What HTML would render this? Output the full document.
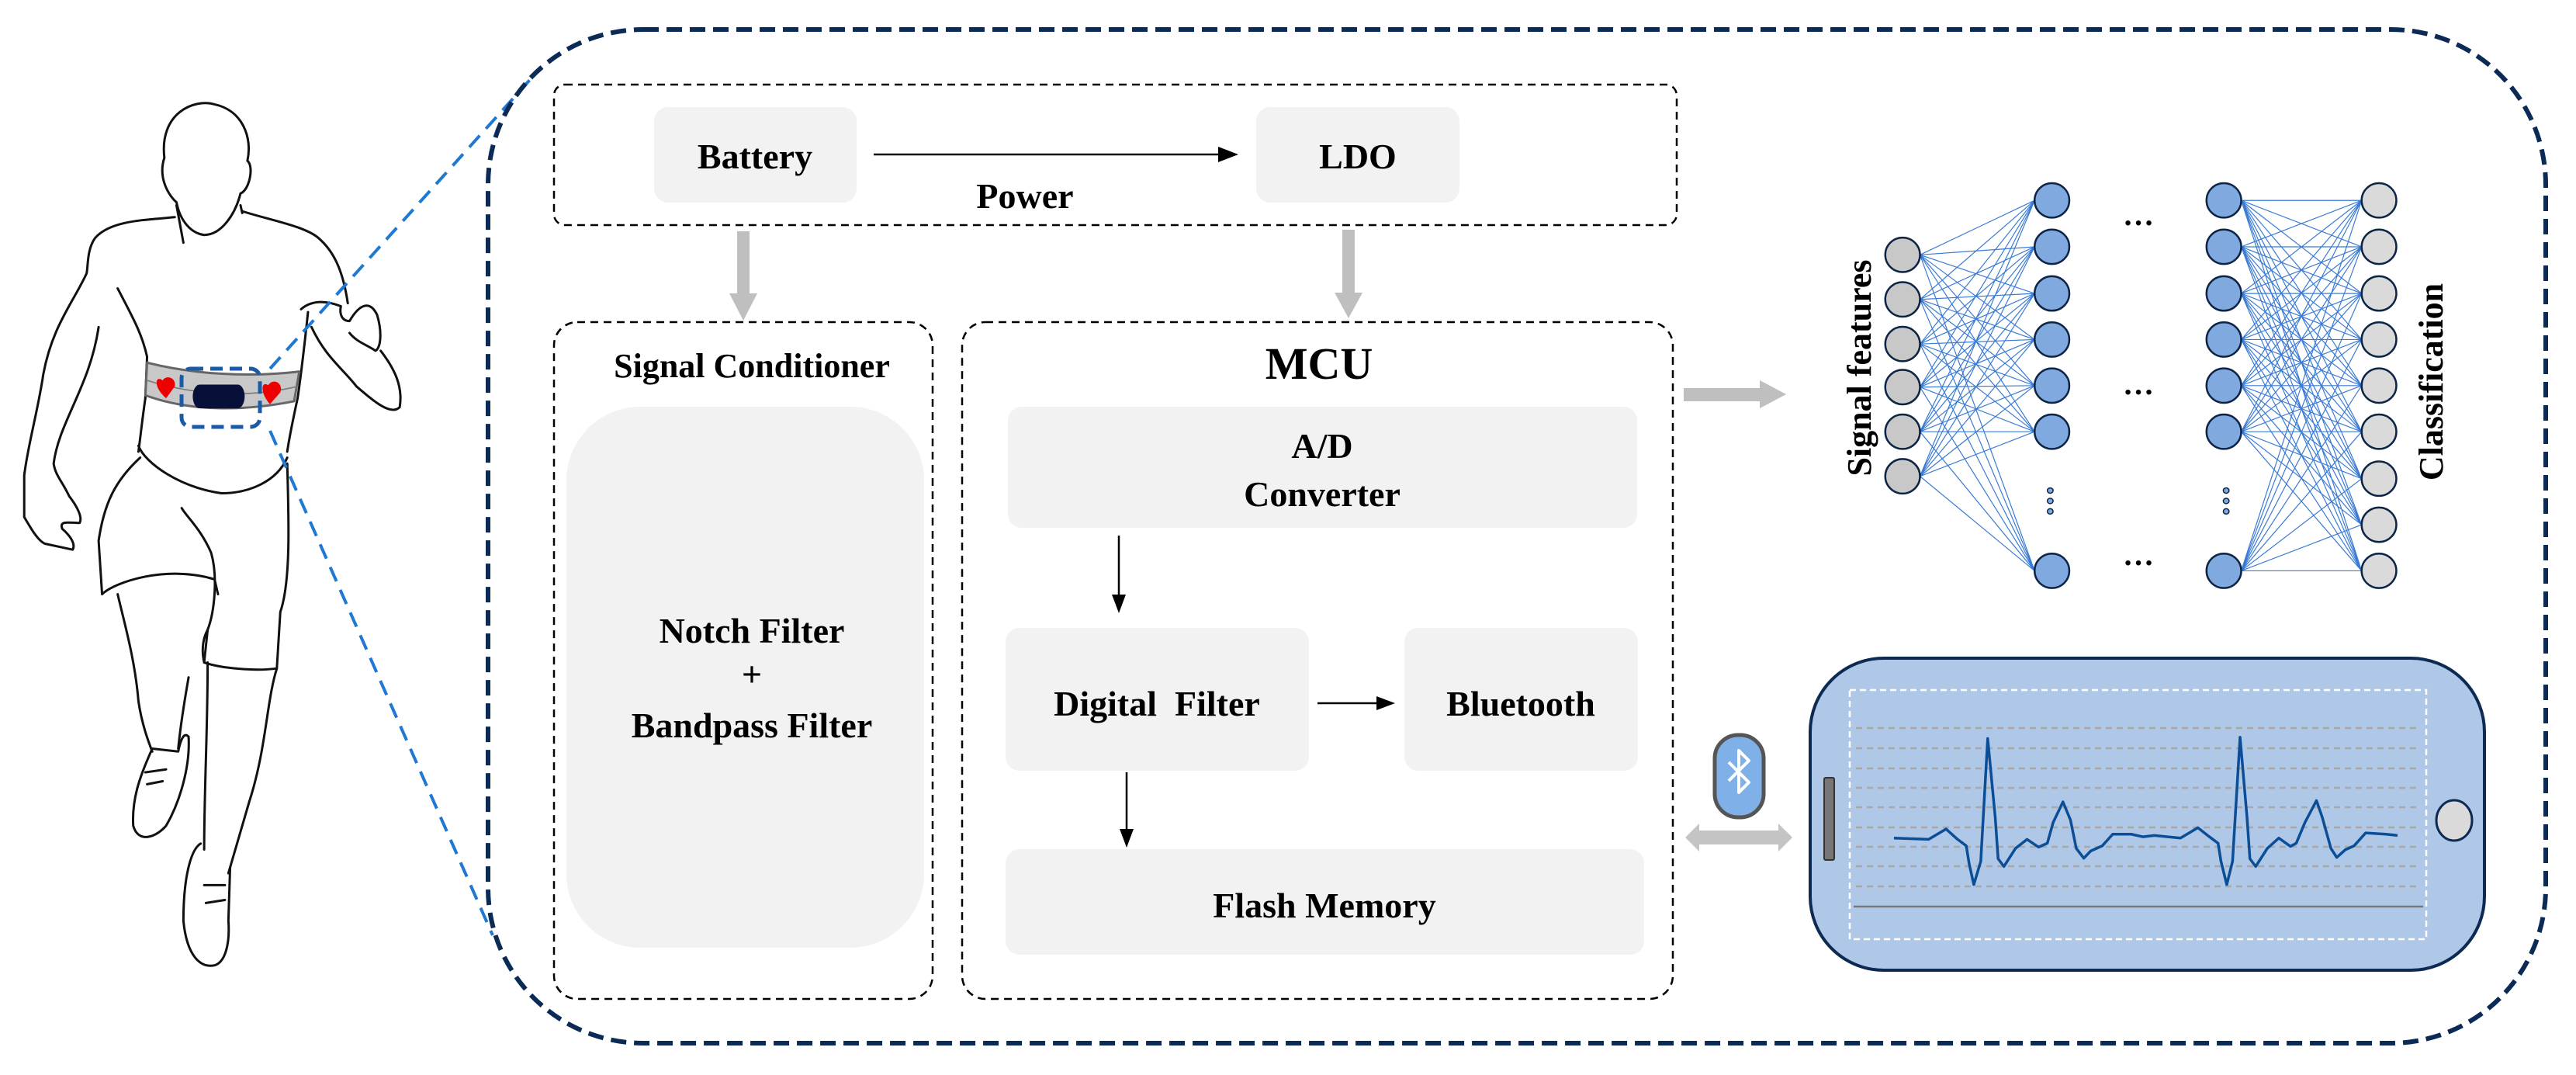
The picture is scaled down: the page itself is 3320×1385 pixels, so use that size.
<!DOCTYPE html>
<html><head><meta charset="utf-8"><style>
html,body{margin:0;padding:0;background:#fff;}
svg{display:block;}
text{font-family:"Liberation Serif",serif;font-weight:bold;fill:#000;}
.ns{vector-effect:non-scaling-stroke;}
</style></head><body>
<svg width="3320" height="1385" viewBox="0 0 3320 1385" xmlns="http://www.w3.org/2000/svg">
<!-- runner -->
<g transform="translate(0,100) scale(0.446,0.765)" fill="none" stroke="#111" stroke-width="3" stroke-linecap="round" stroke-linejoin="round">
<path class="ns" d="M475,135 C460,60 560,35 620,45 C700,55 730,100 715,140 C735,150 720,190 695,195 C680,230 640,265 590,265 C550,262 520,240 510,210 C490,200 455,170 475,135 Z"/>
<path class="ns" d="M510,215 L530,278 M695,215 L700,228"/>
<path class="ns" d="M505,235 C420,240 320,240 275,270 C250,290 255,320 250,330 C210,380 150,420 125,500 C110,560 80,620 70,670 L70,740 C90,760 110,780 130,785 L210,795 C220,785 200,770 180,760 C170,745 200,750 230,750 C240,740 220,720 200,705 C180,680 160,670 155,650 C170,580 260,520 285,420"/>
<path class="ns" d="M340,355 C380,400 410,430 425,470 L420,540 C410,580 405,610 400,630"/>
<path class="ns" d="M700,225 C780,240 880,250 920,270 C960,290 990,320 1005,380"/>
<path class="ns" d="M870,390 C900,375 940,375 985,385 C980,400 990,410 1010,410 C1040,380 1070,375 1090,400 C1105,430 1100,455 1085,460 C1060,450 1030,445 1010,430 M900,420 C940,470 990,490 1030,520 C1080,545 1130,570 1155,555 C1165,520 1140,490 1100,460"/>
<path class="ns" d="M890,395 C880,450 870,500 860,540 C845,580 835,610 830,630"/>
<path class="ns" d="M400,620 C420,650 520,690 640,700 C720,700 800,680 830,640 M405,640 C330,680 300,720 285,780 L295,870 C330,850 480,820 620,845 L630,870 M830,650 C835,750 840,850 810,900 L800,995 C740,1000 640,995 590,985 L600,930 C620,900 630,840 610,800 C580,760 540,740 525,725"/>
<path class="ns" d="M340,870 C360,920 390,980 400,1050 C410,1090 430,1120 440,1135 M545,1010 C530,1060 520,1100 515,1130 M590,985 C580,960 590,940 600,930"/>
<path class="ns" d="M440,1130 C410,1170 380,1210 385,1260 C400,1290 450,1280 480,1260 C520,1220 550,1160 545,1110 C530,1100 520,1120 515,1135 Z M420,1170 L480,1165 M425,1190 L470,1185"/>
<path class="ns" d="M600,985 C600,1100 590,1200 590,1300 M800,995 C770,1050 770,1130 720,1220 C690,1280 670,1320 660,1340"/>
<path class="ns" d="M580,1290 C550,1300 530,1350 530,1420 C540,1480 580,1500 620,1495 C650,1490 665,1460 660,1420 L665,1330 M590,1360 L650,1360 M595,1390 L650,1385"/>
<path class="ns" d="M425,480 C560,500 720,505 865,495 L850,545 C720,560 560,565 420,535 Z" fill="#c8c8c8" stroke="#666"/>
<path class="ns" d="M425,510 C560,535 720,540 860,520" stroke="#777" stroke-width="1.5"/>
<path d="M480,540 C440,520 450,500 470,510 C480,500 510,505 505,520 Z" fill="#e00" stroke="none"/>
<path d="M780,550 C750,530 755,510 775,518 C790,505 820,515 810,530 Z" fill="#e00" stroke="none"/>
<rect x="557" y="517" width="150" height="40" rx="20" ry="20" fill="#08103a" stroke="none"/>
</g>
<rect x="234" y="475" width="101" height="75" rx="12" fill="none" stroke="#1a5aa6" stroke-width="5" stroke-dasharray="16,9"/>
<!-- blue zoom lines -->
<line x1="348" y1="475" x2="690" y2="95" stroke="#1f78d1" stroke-width="4" stroke-dasharray="20,12"/>
<line x1="348" y1="555" x2="635" y2="1205" stroke="#1f78d1" stroke-width="4" stroke-dasharray="20,12"/>
<!-- outer box -->
<rect x="629" y="38" width="2652" height="1306" rx="200" fill="none" stroke="#0b2a55" stroke-width="6" stroke-dasharray="20,10"/>
<!-- top power box -->
<rect x="714" y="109" width="1447" height="181" rx="14" fill="none" stroke="#000" stroke-width="2.5" stroke-dasharray="10,7"/>
<rect x="843" y="138" width="261" height="123" rx="18" fill="#f2f2f2"/>
<rect x="1619" y="138" width="262" height="123" rx="18" fill="#f2f2f2"/>
<text x="973" y="217" font-size="46" text-anchor="middle">Battery</text>
<text x="1750" y="217" font-size="46" text-anchor="middle">LDO</text>
<line x1="1126" y1="199" x2="1575" y2="199" stroke="#000" stroke-width="2.5"/>
<polygon points="1570,189 1596,199 1570,209" fill="#000"/>
<text x="1321" y="268" font-size="46" text-anchor="middle">Power</text>
<!-- gray down arrows -->
<rect x="950" y="298" width="16" height="82" fill="#bfbfbf"/>
<polygon points="940,378 976,378 958,413" fill="#bfbfbf"/>
<rect x="1730" y="296" width="16" height="82" fill="#bfbfbf"/>
<polygon points="1720,377 1756,377 1738,410" fill="#bfbfbf"/>
<!-- signal conditioner -->
<rect x="714" y="415" width="488" height="872" rx="30" fill="none" stroke="#000" stroke-width="2.5" stroke-dasharray="10,7"/>
<text x="969" y="486" font-size="44" text-anchor="middle">Signal Conditioner</text>
<rect x="730" y="524" width="461" height="697" rx="95" fill="#f2f2f2"/>
<text x="969" y="828" font-size="46" text-anchor="middle">Notch Filter</text>
<text x="969" y="884" font-size="46" text-anchor="middle">+</text>
<text x="969" y="950" font-size="46" text-anchor="middle">Bandpass Filter</text>
<!-- MCU -->
<rect x="1240" y="415" width="916" height="872" rx="30" fill="none" stroke="#000" stroke-width="2.5" stroke-dasharray="10,7"/>
<text x="1700" y="488" font-size="58" text-anchor="middle">MCU</text>
<rect x="1299" y="524" width="811" height="156" rx="18" fill="#f2f2f2"/>
<text x="1704" y="590" font-size="46" text-anchor="middle">A/D</text>
<text x="1704" y="652" font-size="46" text-anchor="middle">Converter</text>
<line x1="1442" y1="690" x2="1442" y2="770" stroke="#000" stroke-width="2.5"/>
<polygon points="1433,766 1451,766 1442,790" fill="#000"/>
<rect x="1296" y="809" width="391" height="184" rx="18" fill="#f2f2f2"/>
<rect x="1810" y="809" width="301" height="184" rx="18" fill="#f2f2f2"/>
<text x="1491" y="922" font-size="46" text-anchor="middle" xml:space="preserve">Digital  Filter</text>
<text x="1960" y="922" font-size="46" text-anchor="middle">Bluetooth</text>
<line x1="1698" y1="906" x2="1778" y2="906" stroke="#000" stroke-width="2.5"/>
<polygon points="1774,897 1798,906 1774,915" fill="#000"/>
<line x1="1452" y1="995" x2="1452" y2="1072" stroke="#000" stroke-width="2.5"/>
<polygon points="1443,1068 1461,1068 1452,1092" fill="#000"/>
<rect x="1296" y="1094" width="823" height="136" rx="18" fill="#f2f2f2"/>
<text x="1707" y="1182" font-size="46" text-anchor="middle">Flash Memory</text>
<!-- right arrow -->
<rect x="2170" y="500" width="102" height="17" fill="#bfbfbf"/>
<polygon points="2268,490 2268,526 2302,508" fill="#bfbfbf"/>
<!-- neural net -->
<g transform="translate(2150,200) scale(0.746,0.383)">
<path class="ns" fill="none" stroke="#3a7bd5" stroke-width="1.2" d="M435 335L633 152M435 335L633 308M435 335L633 465M435 335L633 620M435 335L633 775M435 335L633 930M435 335L633 1398M435 485L633 152M435 485L633 308M435 485L633 465M435 485L633 620M435 485L633 775M435 485L633 930M435 485L633 1398M435 635L633 152M435 635L633 308M435 635L633 465M435 635L633 620M435 635L633 775M435 635L633 930M435 635L633 1398M435 780L633 152M435 780L633 308M435 780L633 465M435 780L633 620M435 780L633 775M435 780L633 930M435 780L633 1398M435 930L633 152M435 930L633 308M435 930L633 465M435 930L633 620M435 930L633 775M435 930L633 930M435 930L633 1398M435 1080L633 152M435 1080L633 308M435 1080L633 465M435 1080L633 620M435 1080L633 775M435 1080L633 930M435 1080L633 1398"/>
<path class="ns" fill="none" stroke="#3a7bd5" stroke-width="1.2" d="M990 152L1198 152M990 152L1198 308M990 152L1198 465M990 152L1198 620M990 152L1198 775M990 152L1198 930M990 152L1198 1088M990 152L1198 1243M990 152L1198 1398M990 308L1198 152M990 308L1198 308M990 308L1198 465M990 308L1198 620M990 308L1198 775M990 308L1198 930M990 308L1198 1088M990 308L1198 1243M990 308L1198 1398M990 465L1198 152M990 465L1198 308M990 465L1198 465M990 465L1198 620M990 465L1198 775M990 465L1198 930M990 465L1198 1088M990 465L1198 1243M990 465L1198 1398M990 620L1198 152M990 620L1198 308M990 620L1198 465M990 620L1198 620M990 620L1198 775M990 620L1198 930M990 620L1198 1088M990 620L1198 1243M990 620L1198 1398M990 775L1198 152M990 775L1198 308M990 775L1198 465M990 775L1198 620M990 775L1198 775M990 775L1198 930M990 775L1198 1088M990 775L1198 1243M990 775L1198 1398M990 930L1198 152M990 930L1198 308M990 930L1198 465M990 930L1198 620M990 930L1198 775M990 930L1198 930M990 930L1198 1088M990 930L1198 1243M990 930L1198 1398M990 1398L1198 152M990 1398L1198 308M990 1398L1198 465M990 1398L1198 620M990 1398L1198 775M990 1398L1198 930M990 1398L1198 1088M990 1398L1198 1243M990 1398L1198 1398"/>
<g fill="#c8c8c8" stroke="#0d2445" stroke-width="2.5">
<ellipse class="ns" cx="405" cy="335" rx="30" ry="58"/><ellipse class="ns" cx="405" cy="485" rx="30" ry="58"/><ellipse class="ns" cx="405" cy="635" rx="30" ry="58"/><ellipse class="ns" cx="405" cy="780" rx="30" ry="58"/><ellipse class="ns" cx="405" cy="930" rx="30" ry="58"/><ellipse class="ns" cx="405" cy="1080" rx="30" ry="58"/>
</g>
<g fill="#80aadf" stroke="#0d2445" stroke-width="2.5">
<ellipse class="ns" cx="663" cy="152" rx="30" ry="58"/><ellipse class="ns" cx="663" cy="308" rx="30" ry="58"/><ellipse class="ns" cx="663" cy="465" rx="30" ry="58"/><ellipse class="ns" cx="663" cy="620" rx="30" ry="58"/><ellipse class="ns" cx="663" cy="775" rx="30" ry="58"/><ellipse class="ns" cx="663" cy="930" rx="30" ry="58"/><ellipse class="ns" cx="663" cy="1398" rx="30" ry="58"/>
<ellipse class="ns" cx="960" cy="152" rx="30" ry="58"/><ellipse class="ns" cx="960" cy="308" rx="30" ry="58"/><ellipse class="ns" cx="960" cy="465" rx="30" ry="58"/><ellipse class="ns" cx="960" cy="620" rx="30" ry="58"/><ellipse class="ns" cx="960" cy="775" rx="30" ry="58"/><ellipse class="ns" cx="960" cy="930" rx="30" ry="58"/><ellipse class="ns" cx="960" cy="1398" rx="30" ry="58"/>
</g>
<g fill="#dadada" stroke="#0d2445" stroke-width="2.5">
<ellipse class="ns" cx="1228" cy="152" rx="30" ry="58"/><ellipse class="ns" cx="1228" cy="308" rx="30" ry="58"/><ellipse class="ns" cx="1228" cy="465" rx="30" ry="58"/><ellipse class="ns" cx="1228" cy="620" rx="30" ry="58"/><ellipse class="ns" cx="1228" cy="775" rx="30" ry="58"/><ellipse class="ns" cx="1228" cy="930" rx="30" ry="58"/><ellipse class="ns" cx="1228" cy="1088" rx="30" ry="58"/><ellipse class="ns" cx="1228" cy="1243" rx="30" ry="58"/><ellipse class="ns" cx="1228" cy="1398" rx="30" ry="58"/>
</g>
<g fill="#80aadf" stroke="#0d2445" stroke-width="1.5">
<ellipse class="ns" cx="660" cy="1128" rx="5" ry="9"/><ellipse class="ns" cx="660" cy="1163" rx="5" ry="9"/><ellipse class="ns" cx="660" cy="1198" rx="5" ry="9"/>
<ellipse class="ns" cx="964" cy="1128" rx="5" ry="9"/><ellipse class="ns" cx="964" cy="1163" rx="5" ry="9"/><ellipse class="ns" cx="964" cy="1198" rx="5" ry="9"/>
</g>
</g>
<text x="2756" y="290" font-size="40" text-anchor="middle">…</text>
<text x="2756" y="508" font-size="40" text-anchor="middle">…</text>
<text x="2756" y="728" font-size="40" text-anchor="middle">…</text>
<text transform="translate(2411,474) rotate(-90)" font-size="44" text-anchor="middle">Signal features</text>
<text transform="translate(3148,492) rotate(-90)" font-size="44" text-anchor="middle">Classification</text>
<!-- bluetooth & double arrow -->
<rect x="2210" y="947" width="63" height="106" rx="30" fill="#80b0e8" stroke="#555" stroke-width="5"/>
<path d="M2228,982 L2254,1008 L2241,1021 L2241,967 L2254,980 L2228,1006" fill="none" stroke="#fff" stroke-width="4" stroke-linejoin="round"/>
<polygon points="2172,1079 2190,1061 2190,1070 2292,1070 2292,1061 2310,1079 2292,1097 2292,1088 2190,1088 2190,1097" fill="#c4c4c4"/>
<!-- phone -->
<rect x="2333" y="848" width="869" height="402" rx="95" fill="#afc8e8" stroke="#0d2a52" stroke-width="4"/>
<rect x="2384" y="889" width="743" height="321" fill="none" stroke="#fff" stroke-width="2.5" stroke-dasharray="8,5"/>
<g stroke="#a8a8a8" stroke-width="2.5" stroke-dasharray="8,6">
<line x1="2392" y1="938" x2="3116" y2="938"/><line x1="2392" y1="964" x2="3116" y2="964"/><line x1="2392" y1="990" x2="3116" y2="990"/><line x1="2392" y1="1015" x2="3116" y2="1015"/><line x1="2392" y1="1040" x2="3116" y2="1040"/><line x1="2392" y1="1066" x2="3116" y2="1066"/><line x1="2392" y1="1091" x2="3116" y2="1091"/><line x1="2392" y1="1116" x2="3116" y2="1116"/><line x1="2392" y1="1142" x2="3116" y2="1142"/>
</g>
<line x1="2389" y1="1168" x2="3123" y2="1168" stroke="#777" stroke-width="2.5"/>
<rect x="2351" y="1002" width="13" height="106" rx="2" fill="#777" stroke="#333" stroke-width="2"/>
<ellipse cx="3163" cy="1057" rx="23" ry="26" fill="#dadada" stroke="#0d2a52" stroke-width="3"/>
<g transform="translate(2150,820) scale(0.746,0.333)">
<polyline class="ns" fill="none" stroke="#0b4e96" stroke-width="3.5" stroke-linejoin="round" points="390,780 450,785 480,745 500,785 515,810 520,880 528,960 540,870 552,395 565,700 570,860 580,890 600,820 620,785 640,815 655,800 665,720 682,640 695,710 705,820 718,858 730,830 750,810 768,765 800,765 820,775 840,770 885,780 900,760 915,740 935,775 950,800 955,870 965,960 975,870 988,390 1000,700 1005,860 1015,890 1035,820 1055,780 1075,812 1085,800 1100,720 1120,635 1130,700 1145,820 1155,855 1170,825 1185,810 1205,760 1240,765 1260,770"/>
</g>
</svg>
</body></html>
